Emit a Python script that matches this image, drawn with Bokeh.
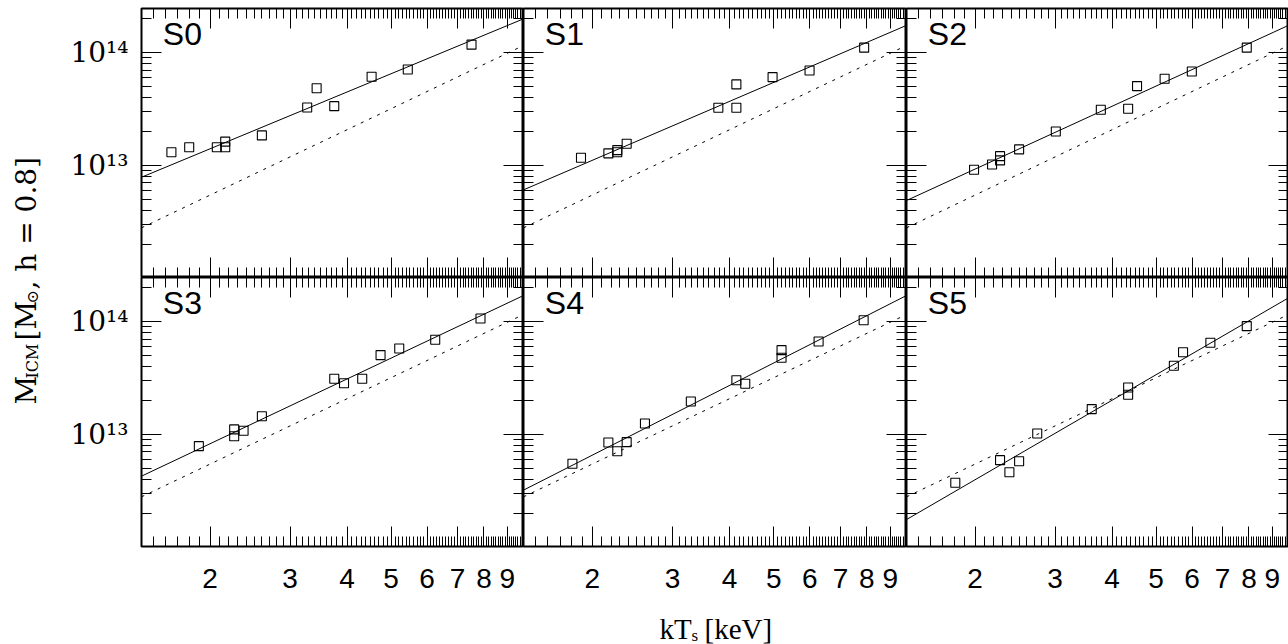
import numpy as np
from bokeh.plotting import figure
from bokeh.models import Range1d, LogAxis, FixedTicker, CustomJSTickFormatter, Label
from bokeh.layouts import row, column
from bokeh.embed import file_html
from bokeh.resources import INLINE
from bokeh.core.properties import value

# ---------------- data ----------------
panel_names = ["S0", "S1", "S2", "S3", "S4", "S5"]

s0_T = [1.645, 1.80, 2.07, 2.16, 2.16, 2.60, 3.27, 3.43, 3.75, 4.53, 5.44, 7.51]
s0_M = [1.31e13, 1.45e13, 1.45e13, 1.63e13, 1.45e13, 1.85e13, 3.27e13, 4.85e13, 3.36e13, 6.12e13, 7.11e13, 1.18e14]

s1_T = [1.89, 2.17, 2.27, 2.27, 2.38, 3.78, 4.14, 4.14, 4.97, 5.99, 7.89]
s1_M = [1.17e13, 1.28e13, 1.31e13, 1.37e13, 1.56e13, 3.25e13, 5.24e13, 3.25e13, 6.08e13, 6.97e13, 1.11e14]

s2_T = [1.99, 2.18, 2.27, 2.27, 2.50, 3.01, 3.78, 4.34, 4.54, 5.22, 5.99, 7.91]
s2_M = [9.16e12, 1.02e13, 1.11e13, 1.21e13, 1.39e13, 2.00e13, 3.12e13, 3.19e13, 5.06e13, 5.88e13, 6.82e13, 1.11e14]

s3_T = [1.89, 2.26, 2.26, 2.37, 2.60, 3.75, 3.94, 4.32, 4.74, 5.21, 6.25, 7.86]
s3_M = [7.88e12, 1.11e13, 9.66e12, 1.08e13, 1.45e13, 3.12e13, 2.85e13, 3.12e13, 5.06e13, 5.80e13, 6.92e13, 1.07e14]

s4_T = [1.81, 2.17, 2.27, 2.38, 2.61, 3.29, 4.14, 4.33, 5.20, 5.20, 6.27, 7.87]
s4_M = [5.50e12, 8.49e12, 7.11e12, 8.55e12, 1.25e13, 1.96e13, 3.03e13, 2.82e13, 5.60e13, 4.80e13, 6.68e13, 1.03e14]

s5_T = [1.81, 2.27, 2.38, 2.50, 2.74, 3.61, 4.34, 4.34, 5.47, 5.73, 6.58, 7.91]
s5_M = [3.73e12, 5.92e12, 4.62e12, 5.79e12, 1.02e13, 1.68e13, 2.61e13, 2.25e13, 4.07e13, 5.37e13, 6.52e13, 9.14e13]

panel_T = [s0_T, s1_T, s2_T, s3_T, s4_T, s5_T]
panel_M = [s0_M, s1_M, s2_M, s3_M, s4_M, s5_M]

# axis limits
T_min, T_max = 1.414, 9.77
M_min, M_max = 1.015e12, 2.47e14

# solid fit lines: values at T_min and T_max
fit_lo = [7.87e12, 6.08e12, 4.89e12, 4.27e12, 3.21e12, 1.76e12]
fit_hi = [2.00e14, 1.75e14, 1.75e14, 1.71e14, 1.71e14, 1.63e14]
# dotted reference relation (same in every panel)
ref_lo, ref_hi = 2.80e12, 1.16e14

x_major = [2, 3, 4, 5, 6, 7, 8, 9]
x_minor = [round(0.1 * k, 1) for k in range(14, 100) if k % 10 != 0]
y_major = [1e12, 1e13, 1e14]
y_minor = [m * 10.0 ** e for e in (12, 13, 14) for m in range(2, 10)]

# ---------------- layout constants ----------------
YLAB_W = 58
LEFT_B = 83
FRAME_W = [382, 383, 382]
FRAME_H = 269
TOP_B = 8
BOTTOM_B = 50

SUP = CustomJSTickFormatter(code="""
const sup = {"0":"\u2070","1":"\u00b9","2":"\u00b2","3":"\u00b3","4":"\u2074",
             "5":"\u2075","6":"\u2076","7":"\u2077","8":"\u2078","9":"\u2079"};
const e = Math.round(Math.log10(tick));
return "10" + String(e).split("").map(c => sup[c]).join("");
""")
INT = CustomJSTickFormatter(code="return String(Math.round(tick));")


def make_panel(i, r, c):
    p = figure(frame_width=FRAME_W[c], frame_height=FRAME_H,
               x_axis_type="log", y_axis_type="log",
               x_range=Range1d(T_min, T_max), y_range=Range1d(M_min, M_max),
               output_backend="svg", toolbar_location=None,
               min_border_left=LEFT_B if c == 0 else 0,
               min_border_right=0,
               min_border_top=TOP_B if r == 0 else 0,
               min_border_bottom=BOTTOM_B if r == 1 else 0,
               background_fill_color="white", border_fill_color="white")
    p.add_layout(LogAxis(), "above")
    p.add_layout(LogAxis(), "right")
    p.xgrid.grid_line_color = None
    p.ygrid.grid_line_color = None
    p.outline_line_color = "black"
    p.outline_line_width = 2
    p.outline_line_alpha = 1

    for ax in p.below + p.above:
        ax.ticker = FixedTicker(ticks=x_major, minor_ticks=x_minor)
    for ax in p.left + p.right:
        ax.ticker = FixedTicker(ticks=y_major, minor_ticks=y_minor)
    for ax in p.below + p.above + p.left + p.right:
        ax.major_tick_in = 20
        ax.major_tick_out = 0
        ax.minor_tick_in = 10
        ax.minor_tick_out = 0
        ax.major_tick_line_color = "black"
        ax.minor_tick_line_color = "black"
        ax.major_tick_line_width = 1
        ax.minor_tick_line_width = 1
        ax.axis_line_color = None
        ax.major_label_standoff = 0
        ax.major_label_text_font_size = "0px"
        ax.formatter = CustomJSTickFormatter(code="return '';")

    if r == 1:
        ax = p.below[0]
        ax.formatter = INT
        ax.major_label_text_font_size = "28px"
        ax.major_label_text_font = "Liberation Sans"
        ax.major_label_text_color = "black"
        ax.major_label_standoff = 22
    if c == 0:
        ax = p.left[0]
        ax.formatter = SUP
        ax.major_label_text_font_size = "28px"
        ax.major_label_text_font = "DejaVu Serif"
        ax.major_label_text_color = "black"
        ax.major_label_standoff = 13

    p.line([T_min, T_max], [ref_lo, ref_hi], line_color="black",
           line_width=1, line_dash="3 6")
    p.line([T_min, T_max], [fit_lo[i], fit_hi[i]], line_color="black", line_width=1)
    p.scatter(panel_T[i], panel_M[i], marker="square", size=9,
              fill_color=None, line_color="black", line_width=1.1)

    p.add_layout(Label(x=1.575, y=2.10e14, text=panel_names[i],
                       text_font="Liberation Sans", text_font_size="32px",
                       text_baseline="top", text_align="left", text_color="black"))
    return p


panels = [make_panel(i, i // 3, i % 3) for i in range(6)]

# ---------------- axis titles ----------------
YL_H = TOP_B + 2 * FRAME_H + BOTTOM_B
yl = figure(width=YLAB_W, height=YL_H, x_range=Range1d(0, YLAB_W), y_range=Range1d(0, YL_H),
            output_backend="svg", toolbar_location=None, min_border=0,
            x_axis_location=None, y_axis_location=None, outline_line_color=None)
yl.grid.visible = False
yl_txt = ["M", "ICM", "[M", "\u2299", ", h = 0.8]"]
yl_pos = [404, 378, 340, 303, 289]     # page y where each piece starts
yl_base = [26, 32, 26, 32, 26]          # page x of baseline
yl_size = ["28px", "16px", "28px", "16px", "28px"]
for t, py, px, s in zip(yl_txt, yl_pos, yl_base, yl_size):
    yl.text(x=[px], y=[YL_H - py], text=[t], angle=np.pi / 2,
            text_font=value("DejaVu Serif"), text_font_size=value(s),
            text_align="left", text_baseline="alphabetic", text_color="black")

XL_W = YLAB_W + LEFT_B + sum(FRAME_W)
XL_H = 644 - YL_H
xl = figure(width=XL_W, height=XL_H, x_range=Range1d(0, XL_W), y_range=Range1d(0, XL_H),
            output_backend="svg", toolbar_location=None, min_border=0,
            x_axis_location=None, y_axis_location=None, outline_line_color=None)
xl.grid.visible = False
xl_txt = ["kT", "s", "[keV]"]
xl_x = [659, 691, 704]
xl_base = [628, 635, 628]
xl_size = ["29px", "17px", "29px"]
for t, px, py, s in zip(xl_txt, xl_x, xl_base, xl_size):
    xl.text(x=[px], y=[XL_H - (py - YL_H)], text=[t],
            text_font=value("Liberation Serif"), text_font_size=value(s),
            text_align="left", text_baseline="alphabetic", text_color="black")

grid = column(row(*panels[:3]), row(*panels[3:]))
layout = column(row(yl, grid), xl)

open("out.html", "w").write(file_html(layout, INLINE))
